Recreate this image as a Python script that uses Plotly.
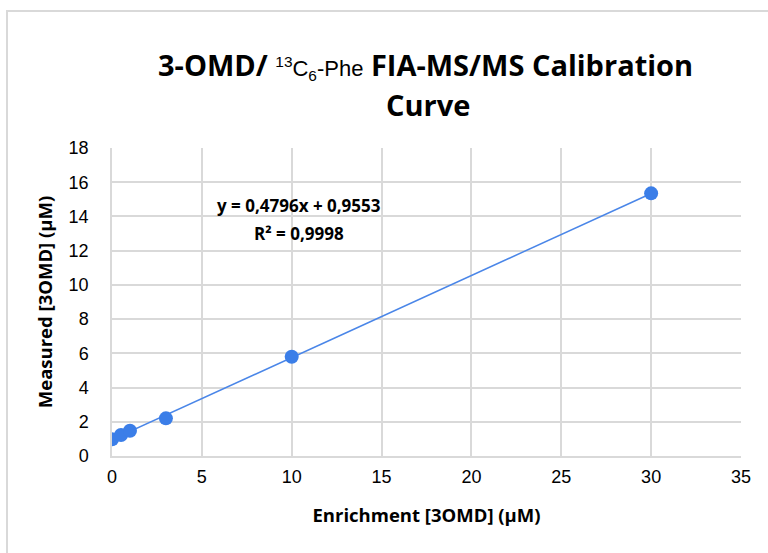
import plotly.graph_objects as go

enrichment = [0, 0.5, 1, 3, 10, 30]
measured = [0.98, 1.23, 1.48, 2.2, 5.8, 15.35]
slope = 0.4796
intercept = 0.9553
trend_x = [0, 30]
x_ticks = [0, 5, 10, 15, 20, 25, 30, 35]
y_ticks = [0, 2, 4, 6, 8, 10, 12, 14, 16, 18]

W, H = 768, 553
L, R, T, B = 112, 27, 148, 97
pw, ph = W - L - R, H - T - B

def px(x):
    return (x - L) / pw

def py(y):
    return (H - B - y) / ph

fig = go.Figure()
fig.add_trace(go.Scatter(
    x=trend_x, y=[slope * v + intercept for v in trend_x], mode="lines",
    line=dict(color="#4a86e8", width=1.5), showlegend=False, hoverinfo="skip"))
fig.add_trace(go.Scatter(
    x=enrichment, y=measured, mode="markers",
    marker=dict(color="#3b7ee8", size=14, line=dict(width=0)), showlegend=False))

title_font = "Open Sans"
fig.add_annotation(
    x=px(425), y=py(64), xref="paper", yref="paper", showarrow=False,
    xanchor="center", yanchor="middle",
    text=("3-OMD/ <span style='font-family:Liberation Sans;font-size:22px;font-weight:normal'>"
          "<sup>13</sup>C<sub>6</sub>-Phe</span> FIA-MS/MS Calibration"),
    font=dict(family=title_font, size=29, color="#000000", weight="bold"))
fig.add_annotation(
    x=px(428), y=py(104), xref="paper", yref="paper", showarrow=False,
    xanchor="center", yanchor="middle",
    text="Curve", font=dict(family=title_font, size=29, color="#000000", weight="bold"))

fig.add_annotation(
    x=px(299), y=py(205), xref="paper", yref="paper", showarrow=False,
    xanchor="center", yanchor="middle",
    text=f"y = {str(slope).replace('.', ',')}x + {str(intercept).replace('.', ',')}",
    font=dict(family=title_font, size=17, color="#000000", weight="bold"))
fig.add_annotation(
    x=px(299), y=py(233), xref="paper", yref="paper", showarrow=False,
    xanchor="center", yanchor="middle",
    text="R² = 0,9998",
    font=dict(family=title_font, size=17, color="#000000", weight="bold"))

fig.add_shape(type="rect", xref="paper", yref="paper",
              x0=px(7), y0=py(11), x1=px(W + 20), y1=py(H + 20),
              line=dict(color="#d9d9d9", width=2), layer="below")

fig.update_layout(
    width=W, height=H, margin=dict(l=L, r=R, t=T, b=B),
    paper_bgcolor="white", plot_bgcolor="white",
    xaxis=dict(range=[0, 35], tickvals=x_ticks, showgrid=True, gridcolor="#d9d9d9",
               gridwidth=1.5, zeroline=False, showline=True, linecolor="#d9d9d9",
               linewidth=1.5, ticks="outside", ticklen=4, tickcolor="rgba(0,0,0,0)",
               tickfont=dict(family="Liberation Sans", size=18, color="#000000"),
               title=dict(text="Enrichment [3OMD] (µM)", standoff=23,
                          font=dict(family=title_font, size=18.5, color="#000000", weight="bold"))),
    yaxis=dict(range=[0, 18], tickvals=y_ticks, showgrid=True, gridcolor="#d9d9d9",
               gridwidth=1.5, zeroline=False, showline=True, linecolor="#d9d9d9",
               linewidth=1.5, ticks="outside", ticklen=18, tickcolor="rgba(0,0,0,0)",
               tickfont=dict(family="Liberation Sans", size=18, color="#000000"),
               title=dict(text="Measured [3OMD] (µM)", standoff=11,
                          font=dict(family=title_font, size=18.5, color="#000000", weight="bold"))),
)

fig.write_html("out.html")
